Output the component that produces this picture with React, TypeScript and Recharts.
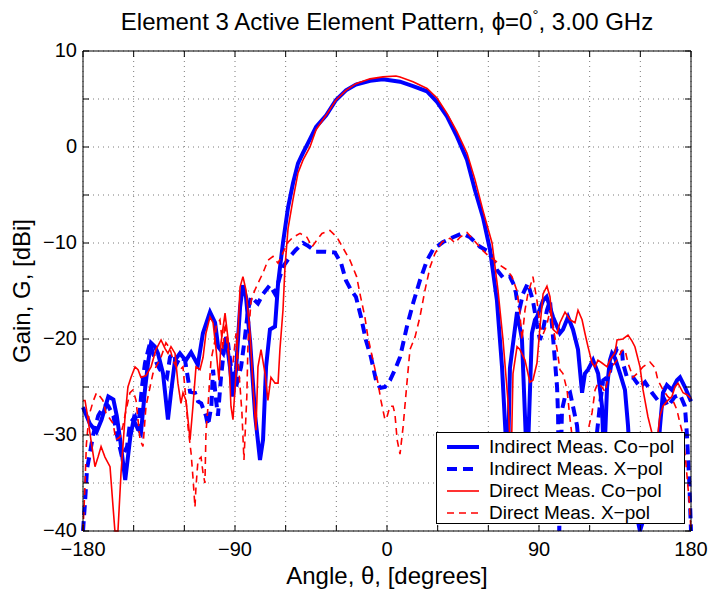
import React from 'react';
import { LineChart, Line, XAxis, YAxis, CartesianGrid, Legend, ReferenceLine } from 'recharts';

// angle (deg), gain (dBi)
const indirectCoPol: [number, number][] = [
  [-180, -27.1], [-176, -28.8], [-172, -29.7], [-169, -28.4], [-165, -26], [-162, -26.3], [-160, -28],
  [-158, -30.5], [-155, -34.7], [-152, -30.2], [-150, -28.4], [-148.6, -29], [-145.7, -29.8], [-143.3, -25.3],
  [-141.5, -22.5], [-139.7, -20.4], [-137.4, -20.8], [-135.6, -21.5], [-132.6, -23.6], [-129.7, -28.4],
  [-127.9, -25.6], [-125.5, -22.2], [-122.6, -21.5], [-120.8, -21.9], [-119, -22.2], [-116, -21.4],
  [-112, -22.7], [-109, -19.4], [-104.8, -17.2], [-101.8, -18.3], [-100, -20.8], [-97, -21.5], [-95.3, -19.8],
  [-93, -22.9], [-91.2, -26], [-89.4, -23.2], [-87, -16.7], [-85.3, -14.4], [-83.5, -15.6], [-81, -20.4],
  [-78, -28.1], [-75.2, -32.6], [-73.4, -30.5], [-71.6, -22.9], [-69.3, -19], [-66.3, -18.7], [-64.5, -14.2],
  [-61.6, -10], [-58.6, -6.3], [-55.7, -3.8], [-52.7, -1.7], [-49.7, -0.6], [-46.8, 0.4], [-42, 2.1],
  [-36, 3.3], [-30.2, 4.9], [-24.3, 5.9], [-18.4, 6.5], [-10, 6.9], [-2.4, 7.05], [7.7, 6.8], [15.4, 6.35],
  [23.7, 5.8], [29.6, 4.7], [35.5, 3.2], [41.4, 1.1], [47.4, -1.35], [52.1, -4.5], [56.8, -7.3], [61, -10.7],
  [65.1, -16], [68.1, -22.9], [70, -29.2], [71.5, -34], [72.8, -23], [77, -17.2], [79.9, -20], [81.7, -28],
  [83, -34], [85.8, -19.4], [87.6, -18], [88.8, -17.7], [92.4, -16], [94.5, -15.6], [98.3, -17.7],
  [102.4, -19.4], [104.2, -19], [107.2, -17.7], [110.1, -19], [113.1, -21.1], [115.5, -25.6], [117.2, -23.6],
  [119, -23.2], [122, -22.2], [125, -23.6], [127.3, -27], [128.5, -33], [130.3, -25], [132, -22.2],
  [133.2, -21.5], [135, -22], [138, -23.6], [140.9, -25.3], [142.7, -29], [145, -36], [149.8, -40],
  [155, -37], [160, -33], [161.6, -29.2], [163.4, -25.6], [165.7, -24.8], [168.7, -25.3], [171.7, -24.3],
  [173.5, -24], [176.4, -25], [180, -26.5],
];

const indirectXPol: [number, number][] = [
  [-180, -40], [-178.8, -37], [-177.6, -33.5], [-176, -32], [-174, -30], [-172.5, -29], [-171, -28],
  [-169, -27.4], [-166, -26.8], [-165, -27], [-162, -28], [-159.9, -30], [-156.9, -32.3], [-153.9, -31.2],
  [-152.2, -28.8], [-149.2, -28.1], [-147.4, -29.5], [-145.1, -25], [-143.3, -22.5], [-140.3, -20.4],
  [-138.6, -21.5], [-136.2, -22.6], [-134.4, -23.2], [-130.3, -24], [-128.5, -21.9], [-126.7, -21.5],
  [-124.3, -22.5], [-122.6, -21.9], [-119.6, -22.2], [-116.6, -25.5], [-113.7, -25.6], [-111.9, -26.5],
  [-110, -26.7], [-107.2, -28], [-106, -29], [-104, -27], [-103, -23.2], [-101.2, -26.4], [-100.1, -28],
  [-98.3, -24], [-95.9, -20.1], [-94.1, -20.5], [-92.4, -22.9], [-89.4, -25], [-86.4, -22.9], [-84.1, -19.8],
  [-82.3, -17], [-80.5, -15.6], [-78.2, -16], [-76.4, -16.3], [-73.4, -15.3], [-69.3, -14.4], [-66.3, -15.3],
  [-63.4, -13.5], [-61.6, -12.5], [-57.4, -11.4], [-53.9, -10.7], [-49.7, -10], [-46.8, -10.3], [-42, -10.9],
  [-36.7, -10.9], [-30.8, -11], [-27.2, -12.1], [-24.3, -13.9], [-21.3, -14.9], [-18.4, -15.6],
  [-15.4, -17.7], [-12.5, -20.1], [-9.5, -21.9], [-6.5, -24.3], [-4.1, -25.1], [-1.2, -25], [1.8, -24.3],
  [4.7, -23.2], [7.7, -21.9], [11.8, -18.7], [15.4, -16.3], [19.5, -13.9], [23.7, -11.8], [27.2, -10.7],
  [33.2, -9.9], [39.1, -9.4], [44.4, -9], [49.1, -9.4], [55.1, -10.4], [61, -11], [65.1, -12.8],
  [68.7, -13.6], [72.8, -13.5], [75.8, -14.6], [77, -16], [78.7, -16.7], [80.5, -15.3], [83.4, -14.2],
  [86.4, -16], [88.8, -18.5], [90.6, -20.1], [92.4, -19], [94.7, -17], [96.5, -16], [98.3, -19.8],
  [100.7, -25], [101.3, -28], [102, -40], [103.6, -27.4], [105.4, -26], [108.4, -25.6], [110.1, -27],
  [112.5, -29], [115, -34], [118, -33], [123, -32], [126, -27], [128, -24.3], [130.3, -24], [132, -23.5],
  [133.2, -22.2], [136.2, -21], [139.1, -21], [139.7, -22.5], [142.1, -24], [145.7, -24], [149.8, -25],
  [152.8, -24.5], [156.9, -25.6], [160.4, -26.4], [163.4, -26], [166.3, -27], [170.5, -26], [173.5, -25.8],
  [176.4, -27], [177.6, -30], [179, -35], [180, -40],
];

const directCoPol: [number, number][] = [
  [-180, -26.4], [-178.8, -26.4], [-177.6, -27.7], [-175.3, -30.5], [-172.9, -33.3], [-171.1, -32.3],
  [-169.3, -31.2], [-167, -32.3], [-164, -33.3], [-162.2, -37.5], [-161.1, -40], [-159.3, -40],
  [-157.5, -34], [-155.1, -28.1], [-153.4, -25], [-151.6, -24], [-149.2, -22.9], [-147.4, -23.2],
  [-145.7, -24], [-142.7, -23.8], [-139.7, -22.9], [-136.8, -21.1], [-133.8, -20.1], [-131.4, -21],
  [-129.7, -21.5], [-127.9, -20.8], [-125.5, -21.5], [-123.8, -24.6], [-122, -26.7], [-120.8, -25.6],
  [-119, -26.4], [-116.6, -30.5], [-114.9, -27], [-113.1, -22.9], [-110.7, -23.2], [-108.9, -21.9],
  [-107.2, -19.4], [-104.8, -17.7], [-103, -18.3], [-101.2, -21.1], [-99.5, -24.3], [-98.3, -20.4],
  [-95.9, -17.3], [-94.1, -20], [-92.4, -27], [-91.2, -28.4], [-89.4, -23.6], [-87, -14.6], [-85.3, -13.5],
  [-83.5, -14.9], [-81.1, -19.4], [-79.3, -25], [-77.6, -29.5], [-76.4, -22.9], [-74.6, -21.1],
  [-72.2, -23.6], [-70.5, -26.4], [-68.7, -24], [-66.3, -24.6], [-64.5, -24.6], [-63.4, -21.1],
  [-61.6, -17], [-60.4, -12.5], [-58.6, -8.5], [-55.7, -5.5], [-52.7, -2.7], [-49.7, -1.35], [-45.6, 0],
  [-42, 1.8], [-36.1, 3.3], [-30.2, 4.9], [-24.3, 5.9], [-18.4, 6.6], [-10.1, 7.1], [-2.4, 7.3], [5.3, 7.4],
  [7.7, 7.3], [15.4, 6.8], [23.7, 6.1], [29.6, 5.1], [35.5, 3.5], [41.4, 1.6], [47.4, -0.65], [52.1, -3.4],
  [56.8, -6.6], [62.2, -10], [65.7, -14.9], [68.7, -20.1], [71.6, -26.4], [73.5, -33], [74.6, -23.6],
  [77, -20.8], [78.7, -21.1], [81.7, -22.2], [84.6, -24.5], [86.4, -24.3], [88.8, -22.5], [90.6, -18.7],
  [92.4, -15.3], [94.7, -14.5], [96.5, -15.6], [98.3, -19], [100.7, -19.4], [102.4, -18.3], [105.4, -17.2],
  [108.4, -18], [111.3, -18.3], [113.1, -17], [115.5, -18], [117.2, -19.4], [119, -20.8], [121.4, -22.5],
  [123.2, -22.9], [124.9, -22.2], [127.3, -22.5], [130.3, -22.9], [132, -22.2], [135, -21.4],
  [136.2, -20.1], [139.7, -20], [142.7, -19.6], [145, -20.2], [146.8, -20.8], [149.8, -22.9],
  [151.6, -25.3], [154.5, -28.1], [156.9, -29.8], [159, -32], [161.6, -28], [163.4, -27], [165.7, -26.5],
  [168.7, -26], [170.5, -25], [172.3, -24.6], [175.3, -25.6], [177.6, -25.8], [180, -26.2],
];

const directXPol: [number, number][] = [
  [-180, -40], [-179, -36], [-178, -31], [-176.5, -28], [-174, -26.5], [-172, -25.6], [-169.9, -26],
  [-168.2, -26.4], [-166.4, -27.7], [-162.2, -28.8], [-160.5, -30.5], [-158.1, -30.2], [-156.3, -29],
  [-154.5, -27.4], [-152.2, -25.6], [-150.4, -25.3], [-148.6, -26.4], [-146.2, -30.5], [-144.5, -31.2],
  [-142.7, -27], [-140.3, -25], [-138.6, -23.6], [-136.8, -22.9], [-133.8, -21.9], [-130.9, -20.4],
  [-128.5, -21], [-126.7, -22.2], [-124.9, -22.9], [-122.6, -23.2], [-120.8, -22.9], [-119, -26.4],
  [-117.8, -29.2], [-116, -31.9], [-114.9, -34.4], [-113.7, -37.5], [-113.1, -35.4], [-111.9, -32.6],
  [-110.1, -32.3], [-108.9, -34], [-107.8, -35], [-107.2, -29.8], [-106, -27], [-104.2, -22.2],
  [-101.8, -20.1], [-101.2, -18.7], [-98.9, -18], [-97.1, -21.1], [-95.9, -17.7], [-95.3, -19.5],
  [-93, -22.9], [-91.2, -22.5], [-89.4, -19.4], [-87, -25], [-85.9, -27.7], [-84.7, -32.6], [-83, -26],
  [-82.3, -20.4], [-80.5, -16], [-78.2, -14.9], [-76.4, -14.2], [-73.4, -13.1], [-70.5, -11.8],
  [-67.5, -11.4], [-64.5, -12.1], [-62.8, -11.5], [-59, -10], [-55.7, -9.4], [-51.5, -9], [-47.4, -9.4],
  [-44.4, -10.4], [-41.5, -9.7], [-38.5, -9], [-33.8, -8.7], [-29.6, -9.4], [-26.1, -10.5], [-21.9, -11.8],
  [-18, -13.5], [-16, -15.3], [-13.1, -17.7], [-11.3, -19.8], [-8.3, -22.2], [-5.3, -24.6], [-3.6, -26.4],
  [-1.2, -28.4], [0, -28.1], [1.8, -27], [3.6, -27], [4.7, -27.8], [6, -30.5], [7.7, -32], [9.5, -29.2],
  [11.8, -24.6], [13.6, -21.1], [16.6, -19.8], [19.5, -17.7], [22.5, -14.9], [25.5, -12.5], [28.4, -11.1],
  [32.6, -9.9], [37.3, -9.5], [40.3, -10], [43.2, -9.4], [47.4, -8.9], [50.9, -9.6], [56.2, -10.7],
  [59.8, -11.3], [63.9, -11.8], [66.9, -12.3], [71, -12.8], [74, -13.5], [77, -15], [78.7, -17.3],
  [79.9, -20.1], [81.7, -17], [83.4, -15.3], [85.8, -13.9], [86.4, -13.5], [88.8, -16], [90.6, -18.7],
  [92.4, -19.5], [94.7, -18.5], [96.5, -17], [98.3, -18.7], [100.7, -21.1], [102.4, -23.2], [104.2, -23.6],
  [106.6, -25.3], [108.4, -28.4], [109.5, -30], [112, -34], [116, -33], [118.4, -30], [121.4, -27.7],
  [123.2, -25.3], [124.9, -24.6], [127.3, -25], [129.1, -25.5], [130.3, -24.5], [132, -23.5],
  [133.2, -22.9], [136.2, -22.2], [139.1, -21.2], [140.9, -21.1], [142.7, -22.5], [145.7, -24],
  [148.6, -23.5], [151.6, -22.9], [155.7, -22.4], [158.7, -23], [160.4, -24.3], [163.4, -25.3], [166.3, -26],
  [169.3, -26.4], [171.7, -27.4], [173.5, -28.8], [175.3, -30], [177, -33], [179, -37], [180, -40],
];

const xTicks = [-180, -150, -120, -90, -60, -30, 0, 30, 60, 90, 120, 150, 180];
const xLabelTicks = [-180, -90, 0, 90, 180];
const yTicks = [-40, -35, -30, -25, -20, -15, -10, -5, 0, 5, 10];
const yLabelTicks = [-40, -30, -20, -10, 0, 10];

const FONT = '"Liberation Sans", Arial, Helvetica, sans-serif';
const TICK_LEN = 6;
const TICK_FONT = 20;
const LABEL_FONT = 24;

// chart box
const W = 712;
const H = 593;
const MARGIN = { top: 51, right: 21, bottom: 0, left: 0 };
const Y_AXIS_W = 83;
const X_AXIS_H = 62;
const PLOT_W = W - MARGIN.left - MARGIN.right - Y_AXIS_W;
const PLOT_H = H - MARGIN.top - MARGIN.bottom - X_AXIS_H;

const series = [
  { name: 'Indirect Meas. Co\u2212pol', points: indirectCoPol, color: '#0000ff', width: 4, dash: undefined as string | undefined },
  { name: 'Indirect Meas. X\u2212pol', points: indirectXPol, color: '#0000ff', width: 4, dash: '10 6' },
  { name: 'Direct Meas. Co\u2212pol', points: directCoPol, color: '#ff0000', width: 1.6, dash: undefined },
  { name: 'Direct Meas. X\u2212pol', points: directXPol, color: '#ff0000', width: 1.6, dash: '7 5' },
];

const fmt = (v: number) => (v < 0 ? `\u2212${Math.abs(v)}` : `${v}`);

// bottom ticks point inward; the matching top-edge tick is drawn too
const BottomTick = ({ x, y, payload }: any) => (
  <g>
    <line x1={x} y1={y} x2={x} y2={y - TICK_LEN} stroke="#000" />
    <line x1={x} y1={y - PLOT_H} x2={x} y2={y - PLOT_H + TICK_LEN} stroke="#000" />
    {xLabelTicks.includes(payload.value) && (
      <text x={x} y={y + 25} textAnchor="middle" fontSize={TICK_FONT} fontFamily={FONT} fill="#000">
        {fmt(payload.value)}
      </text>
    )}
  </g>
);

const LeftTick = ({ x, y, payload }: any) => (
  <g>
    <line x1={x} y1={y} x2={x + TICK_LEN} y2={y} stroke="#000" />
    <line x1={x + PLOT_W} y1={y} x2={x + PLOT_W - TICK_LEN} y2={y} stroke="#000" />
    {yLabelTicks.includes(payload.value) && (
      <text x={x - 6} y={y + 6} textAnchor="end" fontSize={TICK_FONT} fontFamily={FONT} fill="#000">
        {fmt(payload.value)}
      </text>
    )}
  </g>
);

const XLabel = ({ viewBox }: any) => (
  <text x={viewBox.x + viewBox.width / 2} y={viewBox.y + 53} textAnchor="middle" fontSize={LABEL_FONT} fontFamily={FONT} fill="#000">
    Angle, θ, [degrees]
  </text>
);

const YLabel = ({ viewBox }: any) => {
  const cx = viewBox.x + 30;
  const cy = viewBox.y + viewBox.height / 2;
  return (
    <text x={cx} y={cy} transform={`rotate(-90, ${cx}, ${cy})`} textAnchor="middle" fontSize={LABEL_FONT} fontFamily={FONT} fill="#000">
      Gain, G, [dBi]
    </text>
  );
};

const LegendBox = ({ payload }: any) => {
  const entries = series
    .map((s) => ({ s, p: (payload || []).find((p: any) => p.value === s.name) }))
    .filter((e) => e.p);
  return (
    <div
      style={{
        width: 249,
        height: 92,
        boxSizing: 'border-box',
        border: '1px solid #000',
        background: '#fff',
        paddingTop: 3,
        fontFamily: FONT,
        fontSize: 19,
        color: '#000',
        textAlign: 'left',
      }}
    >
      {entries.map(({ s }) => (
        <div key={s.name} style={{ display: 'flex', alignItems: 'center', height: 22 }}>
          <svg width={50} height={22} style={{ flex: 'none' }}>
            <line x1={10} x2={42} y1={11} y2={11} stroke={s.color} strokeWidth={s.width} strokeDasharray={s.dash} />
          </svg>
          <span style={{ marginLeft: 2, whiteSpace: 'nowrap' }}>{s.name}</span>
        </div>
      ))}
    </div>
  );
};

export default function App() {
  return (
    <div style={{ position: 'absolute', left: 0, top: 0, width: W, height: H, background: '#fff' }}>
      <div
        style={{
          position: 'absolute',
          left: MARGIN.left + Y_AXIS_W - 40,
          top: 8,
          width: PLOT_W + 80,
          textAlign: 'center',
          fontFamily: FONT,
          fontSize: LABEL_FONT,
          lineHeight: '27px',
          color: '#000',
          whiteSpace: 'nowrap',
        }}
      >
        Element 3 Active Element Pattern, ϕ=0<sup style={{ fontSize: 15, verticalAlign: 'top', lineHeight: '14px' }}>°</sup>, 3.00 GHz
      </div>
      <LineChart width={W} height={H} margin={MARGIN}>
        <CartesianGrid stroke="#7a7a7a" strokeDasharray="1 4" />
        <XAxis
          dataKey="angle"
          type="number"
          domain={[-180, 180]}
          ticks={xTicks}
          interval={0}
          height={X_AXIS_H}
          tickSize={0}
          tickMargin={0}
          tickLine={false}
          tick={<BottomTick />}
          axisLine={{ stroke: '#000' }}
          label={<XLabel />}
        />
        <YAxis
          type="number"
          domain={[-40, 10]}
          ticks={yTicks}
          interval={0}
          width={Y_AXIS_W}
          tickSize={0}
          tickMargin={0}
          tickLine={false}
          tick={<LeftTick />}
          axisLine={{ stroke: '#000' }}
          label={<YLabel />}
        />
        {series.map((s) => (
          <Line
            key={s.name}
            name={s.name}
            data={s.points.map(([angle, gain]) => ({ angle, gain }))}
            dataKey="gain"
            type="linear"
            stroke={s.color}
            strokeWidth={s.width}
            strokeDasharray={s.dash}
            dot={false}
            activeDot={false}
            isAnimationActive={false}
          />
        ))}
        <ReferenceLine y={10} stroke="#000" strokeWidth={1} />
        <ReferenceLine x={180} stroke="#000" strokeWidth={1} />
        <Legend
          layout="vertical"
          verticalAlign="middle"
          align="center"
          wrapperStyle={{ left: 436, top: 432, width: 249, height: 92 }}
          content={<LegendBox />}
        />
      </LineChart>
    </div>
  );
}
